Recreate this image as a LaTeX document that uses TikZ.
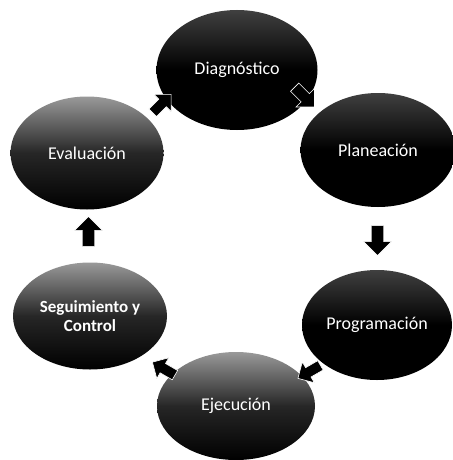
\documentclass[tikz,border=0pt]{standalone}
\usepackage{fontspec}
\setmainfont{Carlito}
\usetikzlibrary{shapes.geometric,shapes.arrows,calc}
\tikzset{
  phase/.style={ellipse, inner sep=0pt, text=white, font=\fontsize{18}{19}\selectfont, align=center},
  darkphase/.style={phase, top color=black!75, bottom color=black, middle color=black},
  grayphase/.style={phase, top color=black!40, bottom color=black, middle color=black!85},
  blockarrow/.style={single arrow, fill=black, draw=white, line width=0.6pt, minimum height=30pt, minimum width=28pt,
    single arrow head extend=4pt, inner sep=2pt, shape border uses incircle}
}
\begin{document}
\begin{tikzpicture}[x=1pt,y=-1pt]
\useasboundingbox[fill=white] (0,0) rectangle (452,460);
\node[darkphase, minimum width=161pt, minimum height=120pt] (diag) at (237,70) {Diagnóstico};
\node[darkphase, minimum width=155pt, minimum height=114pt] (plan) at (378,150) {Planeación};
\node[darkphase, minimum width=150pt, minimum height=110pt] (prog) at (377,325) {Programación};
\node[grayphase, minimum width=158pt, minimum height=108pt] (ejec) at (236,406) {Ejecución};
\node[grayphase, minimum width=154pt, minimum height=107pt, font=\bfseries\fontsize{17}{19}\selectfont] (seg) at (90,316) {Seguimiento y\\Control};
\node[grayphase, minimum width=153pt, minimum height=113pt] (eval) at (87,153) {Evaluación};
\node[blockarrow, rotate=-45, minimum height=28pt, minimum width=26pt] (a1) at ($(diag)!0.5!(plan)+(-5,-15)$) {};
\node[blockarrow, rotate=-90] (a2) at ($(plan)!0.5!(prog)$) {};
\node[blockarrow, rotate=-150, minimum height=26pt, minimum width=24pt] (a3) at ($(prog)!0.5!(ejec)+(5,5)$) {};
\node[blockarrow, rotate=150, minimum height=26pt, minimum width=24pt] (a4) at ($(ejec)!0.5!(seg)+(3,9)$) {};
\node[blockarrow, rotate=90] (a5) at ($(seg)!0.5!(eval)$) {};
\node[blockarrow, rotate=45, minimum height=26pt, minimum width=24pt] (a6) at ($(eval)!0.5!(diag)+(-2,-6)$) {};
\end{tikzpicture}
\end{document}
